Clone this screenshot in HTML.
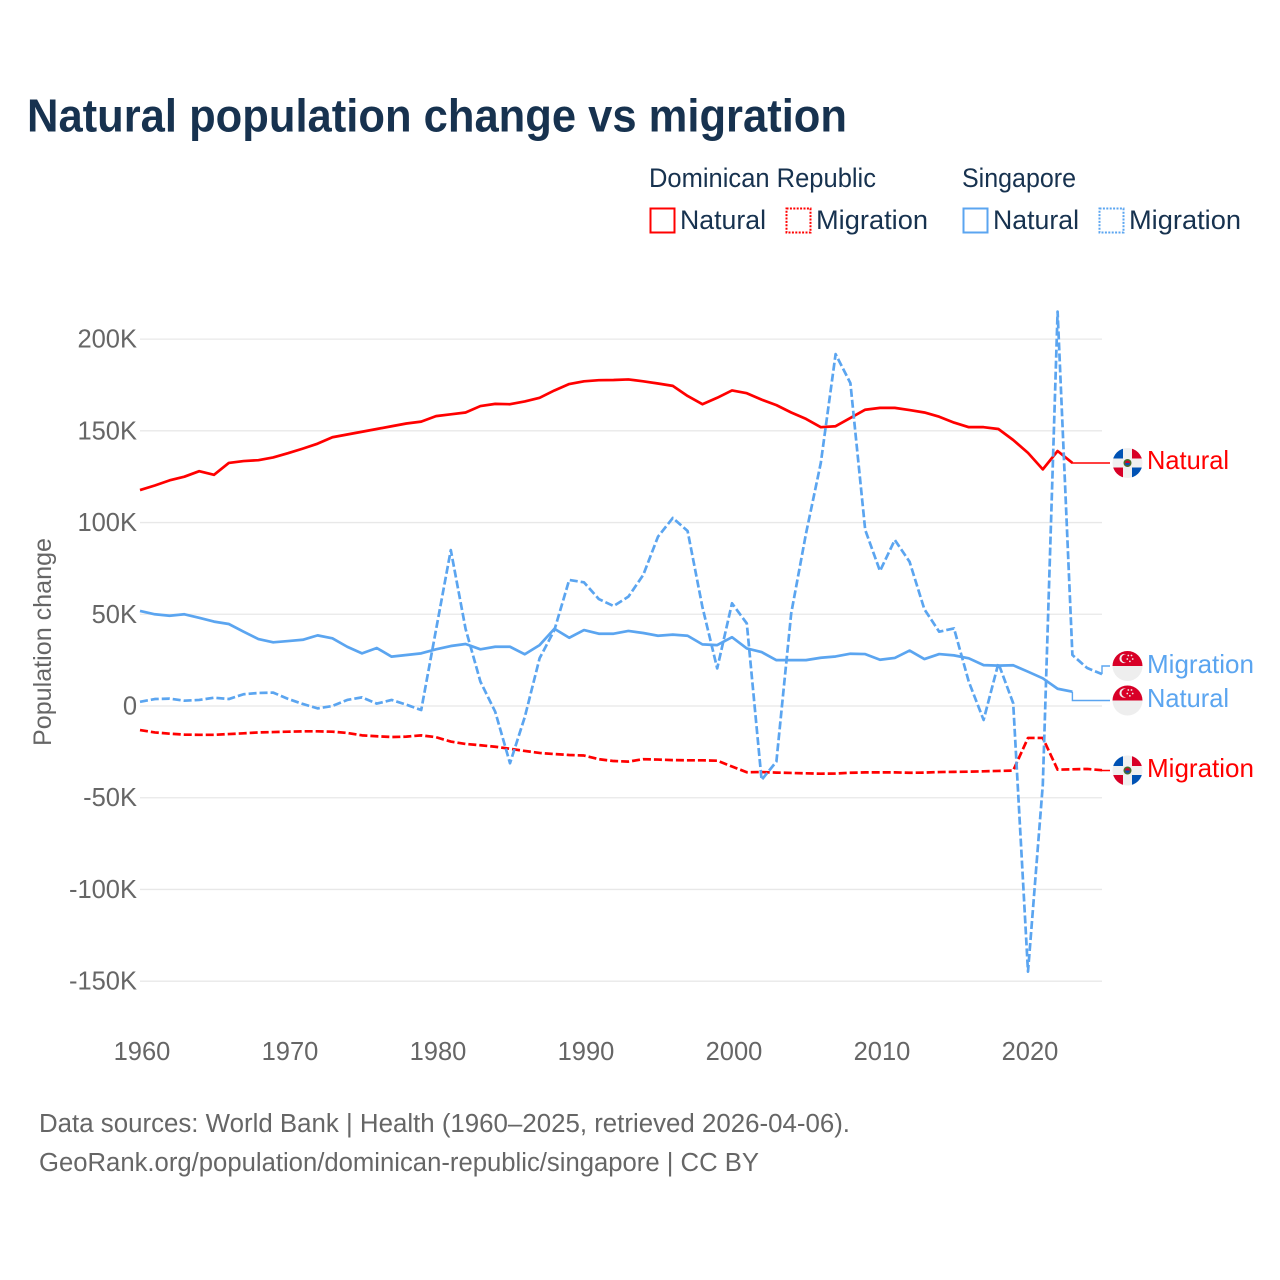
<!DOCTYPE html>
<html lang="en">
<head>
<meta charset="utf-8">
<title>Natural population change vs migration</title>
<style>
html,body{margin:0;padding:0;background:#fff;width:1280px;height:1280px;overflow:hidden}
svg{display:block}
text{font-family:"Liberation Sans",sans-serif}
</style>
</head>
<body>
<svg id="chart" xmlns="http://www.w3.org/2000/svg" width="1280" height="1280" viewBox="0 0 1280 1280">
  <defs>
    <clipPath id="flag-clip"><circle cx="0" cy="0" r="15"/></clipPath>
    <g id="flag-dr" clip-path="url(#flag-clip)">
      <rect x="-15" y="-15" width="30" height="30" fill="#f0f0f0"/>
      <rect x="-15" y="-15" width="10.5" height="10.5" fill="#0052b4"/>
      <rect x="4.5" y="-15" width="10.5" height="10.5" fill="#d80027"/>
      <rect x="-15" y="4.5" width="10.5" height="10.5" fill="#d80027"/>
      <rect x="4.5" y="4.5" width="10.5" height="10.5" fill="#0052b4"/>
      <circle r="4" fill="#496e2d"/>
      <circle r="2.4" fill="#d80027"/>
      <path d="M-2.4 0A2.4 2.4 0 0 0 2.4 0Z" fill="#0052b4"/>
    </g>
    <g id="flag-sg" clip-path="url(#flag-clip)">
      <rect x="-15" y="-15" width="30" height="30" fill="#eeeeee"/>
      <rect x="-15" y="-15" width="30" height="15" fill="#d80027"/>
      <circle cx="-3.5" cy="-7.5" r="4.6" fill="#f0f0f0"/>
      <circle cx="-1.8" cy="-7.5" r="4.2" fill="#d80027"/>
      <circle cx="0.8" cy="-10.5" r="0.9" fill="#f0f0f0"/>
      <circle cx="4" cy="-10.5" r="0.9" fill="#f0f0f0"/>
      <circle cx="5.2" cy="-7" r="0.9" fill="#f0f0f0"/>
      <circle cx="2.4" cy="-4.6" r="0.9" fill="#f0f0f0"/>
      <circle cx="-0.2" cy="-7" r="0.9" fill="#f0f0f0"/>
    </g>
  </defs>

  <text x="27" y="131.5" font-size="46" font-weight="700" fill="#17324f" textLength="820" lengthAdjust="spacingAndGlyphs">Natural population change vs migration</text>

  <g fill="#17324f">
    <text x="649" y="187" font-size="26.5" textLength="227" lengthAdjust="spacingAndGlyphs">Dominican Republic</text>
    <text x="962" y="187" font-size="26.5" textLength="114" lengthAdjust="spacingAndGlyphs">Singapore</text>
    <rect x="650.5" y="208.5" width="24" height="24" fill="none" stroke="#ff0000" stroke-width="2"/>
    <text x="680" y="229" font-size="27" textLength="86" lengthAdjust="spacingAndGlyphs">Natural</text>
    <rect x="786.5" y="208.5" width="24" height="24" fill="none" stroke="#ff0000" stroke-width="2" stroke-dasharray="2 1.4"/>
    <text x="816" y="229" font-size="27" textLength="112" lengthAdjust="spacingAndGlyphs">Migration</text>
    <rect x="963.5" y="208.5" width="24" height="24" fill="none" stroke="#5ba5f0" stroke-width="2"/>
    <text x="993" y="229" font-size="27" textLength="86" lengthAdjust="spacingAndGlyphs">Natural</text>
    <rect x="1099.5" y="208.5" width="24" height="24" fill="none" stroke="#5ba5f0" stroke-width="2" stroke-dasharray="2 1.4"/>
    <text x="1129" y="229" font-size="27" textLength="112" lengthAdjust="spacingAndGlyphs">Migration</text>
  </g>

  <text transform="translate(51,642) rotate(-90)" text-anchor="middle" font-size="25" fill="#666666" textLength="208" lengthAdjust="spacingAndGlyphs">Population change</text>

  <g id="grid"></g>
  <g id="y-ticks"></g>
  <g id="x-ticks"></g>
  <g id="series"></g>
  <g id="end-labels"></g>

  <g fill="#666666" font-size="25.5">
    <text x="39" y="1132" textLength="811" lengthAdjust="spacingAndGlyphs">Data sources: World Bank | Health (1960–2025, retrieved 2026-04-06).</text>
    <text x="39" y="1171" textLength="720" lengthAdjust="spacingAndGlyphs">GeoRank.org/population/dominican-republic/singapore | CC BY</text>
  </g>
</svg>

<script>
// Chart data (people, in thousands)
const years = [1960,1961,1962,1963,1964,1965,1966,1967,1968,1969,1970,1971,1972,1973,1974,1975,1976,1977,1978,1979,1980,1981,1982,1983,1984,1985,1986,1987,1988,1989,1990,1991,1992,1993,1994,1995,1996,1997,1998,1999,2000,2001,2002,2003,2004,2005,2006,2007,2008,2009,2010,2011,2012,2013,2014,2015,2016,2017,2018,2019,2020,2021,2022,2023,2024,2025];
const drNatural = [117.7,120.2,123,125,128,126,132.5,133.5,134,135.5,137.8,140.3,143,146.5,148,149.5,151,152.5,154,155,158,159,160,163.5,164.7,164.5,166,168,172,175.5,177,177.6,177.7,178,177,175.8,174.5,169,164.5,168,172,170.5,167,164,160,156.5,152,152.5,157,161.5,162.5,162.5,161.3,160,157.7,154.5,152,152,151,145,138,129,139,132.5];
const drMigration = [-13.1,-14.4,-15.1,-15.6,-15.7,-15.7,-15.3,-14.9,-14.4,-14.2,-14,-13.8,-13.8,-14,-14.7,-16,-16.5,-16.9,-16.7,-16,-17,-19.4,-20.7,-21.4,-22.2,-23.3,-24.5,-25.6,-26.2,-26.7,-27,-29,-30,-30.3,-29,-29.2,-29.5,-29.6,-29.6,-29.8,-33,-36.1,-36,-36.3,-36.5,-36.7,-36.9,-36.8,-36.4,-36.2,-36.2,-36.2,-36.4,-36.3,-36,-35.9,-35.8,-35.6,-35.4,-35.2,-17.4,-17.4,-34.7,-34.5,-34.3,-35];
const sgNatural = [51.8,50,49.2,50,48.1,46,44.7,40.5,36.5,34.7,35.4,36.1,38.5,36.9,32.3,28.7,31.6,26.9,27.8,28.7,30.9,32.7,33.8,30.9,32.3,32.3,28.2,33.2,42.1,37.2,41.4,39.4,39.4,40.9,39.8,38.3,38.9,38.3,33.6,33.2,37.5,31.4,29.4,25,25,25,26.3,27,28.5,28.3,25.2,26.2,30.2,25.6,28.3,27.6,26,22.3,22,22.2,18.7,15.1,9.4,7.8];
const sgMigration = [2.3,3.8,4,2.9,3.3,4.5,3.8,6.4,7.1,7.3,3.9,1.1,-1.3,0,3.3,4.7,1.3,3.3,0.7,-2.2,41.5,85,42,13.3,-3.1,-31.2,-6,26,41.4,68.7,67.4,58.3,54.5,59.6,71.4,92.3,102.5,95.4,54,20.5,56,45,-40.3,-30.3,50.5,94,132.5,191.8,176,96,73.6,90.5,78.6,52.7,40.5,42.3,13.2,-7.6,23.3,1.5,-144.8,-43,215,27.8,20.7,17.4];
const yTickValues = [200,150,100,50,0,-50,-100,-150];
const yTickLabels = ["200K","150K","100K","50K","0","-50K","-100K","-150K"];
const xTickValues = [1960,1970,1980,1990,2000,2010,2020];

const NS = 'http://www.w3.org/2000/svg';
const PLOT_LEFT = 140, PLOT_RIGHT = 1102;
const Y_ZERO = 706, PX_PER_K = 1.8345;
const RED = '#ff0000', BLUE = '#5ba5f0';

function xScale(year) {
  return PLOT_LEFT + (year - years[0]) * (PLOT_RIGHT - PLOT_LEFT) / (years[years.length - 1] - years[0]);
}
function yScale(k) {
  return Y_ZERO - k * PX_PER_K;
}
function make(tag, attrs, parentId) {
  const node = document.createElementNS(NS, tag);
  for (const key in attrs) node.setAttribute(key, attrs[key]);
  document.getElementById(parentId).appendChild(node);
  return node;
}

// Gridlines and y-axis tick labels
yTickValues.forEach(function (value, i) {
  const line = make('line', {x1: PLOT_LEFT, x2: PLOT_RIGHT, y1: yScale(value), y2: yScale(value), stroke: '#e8e8e8', 'stroke-width': 1.3}, 'grid');
  
  
  const label = make('text', {x: 137, y: yScale(value) + 8.5, 'text-anchor': 'end', 'font-size': 25.5, fill: '#666666'}, 'y-ticks');
  label.textContent = yTickLabels[i];
  
  
});

// X-axis tick labels
xTickValues.forEach(function (value) {
  const label = make('text', {x: xScale(value) + 2, y: 1060, 'text-anchor': 'middle', 'font-size': 25.5, fill: '#666666'}, 'x-ticks');
  label.textContent = String(value);
  
  
});

// One series line, from its data array
function drawLine(values, color, dashed) {
  let d = '';
  values.forEach(function (value, i) {
    d += (i ? 'L' : 'M') + xScale(years[i]).toFixed(2) + ' ' + yScale(value).toFixed(2);
  });
  const attrs = {d: d, fill: 'none', stroke: color, 'stroke-width': 2.7, 'stroke-linejoin': 'round'};
  if (dashed) attrs['stroke-dasharray'] = '8 3';
  return make('path', attrs, 'series');
}

const lineDrNatural = drawLine(drNatural, RED, false);


const lineDrMigration = drawLine(drMigration, RED, true);


const lineSgNatural = drawLine(sgNatural, BLUE, false);


const lineSgMigration = drawLine(sgMigration, BLUE, true);



// End-of-line connector, flag and label
function drawEnd(values, color, flagId, text, textWidth, rowY, baseline) {
  const last = values.length - 1;
  const connector = make('path', {
    d: 'M' + xScale(years[last]).toFixed(2) + ' ' + yScale(values[last]).toFixed(2) + 'V' + rowY + 'H1110',
    fill: 'none', stroke: color, 'stroke-width': 1.4
  }, 'end-labels');
  
  
  const flag = make('use', {href: '#' + flagId, transform: 'translate(1127.5,' + rowY + ')'}, 'end-labels');
  
  
  const label = make('text', {x: 1147, y: baseline, 'font-size': 26, fill: color, textLength: textWidth, lengthAdjust: 'spacingAndGlyphs'}, 'end-labels');
  label.textContent = text;
  
  
}

drawEnd(drNatural, RED, 'flag-dr', 'Natural', 82, 463, 469);
drawEnd(sgMigration, BLUE, 'flag-sg', 'Migration', 107, 666, 673);
drawEnd(sgNatural, BLUE, 'flag-sg', 'Natural', 82, 700.5, 707);
drawEnd(drMigration, RED, 'flag-dr', 'Migration', 107, 770.5, 777);
</script>
</body>
</html>
